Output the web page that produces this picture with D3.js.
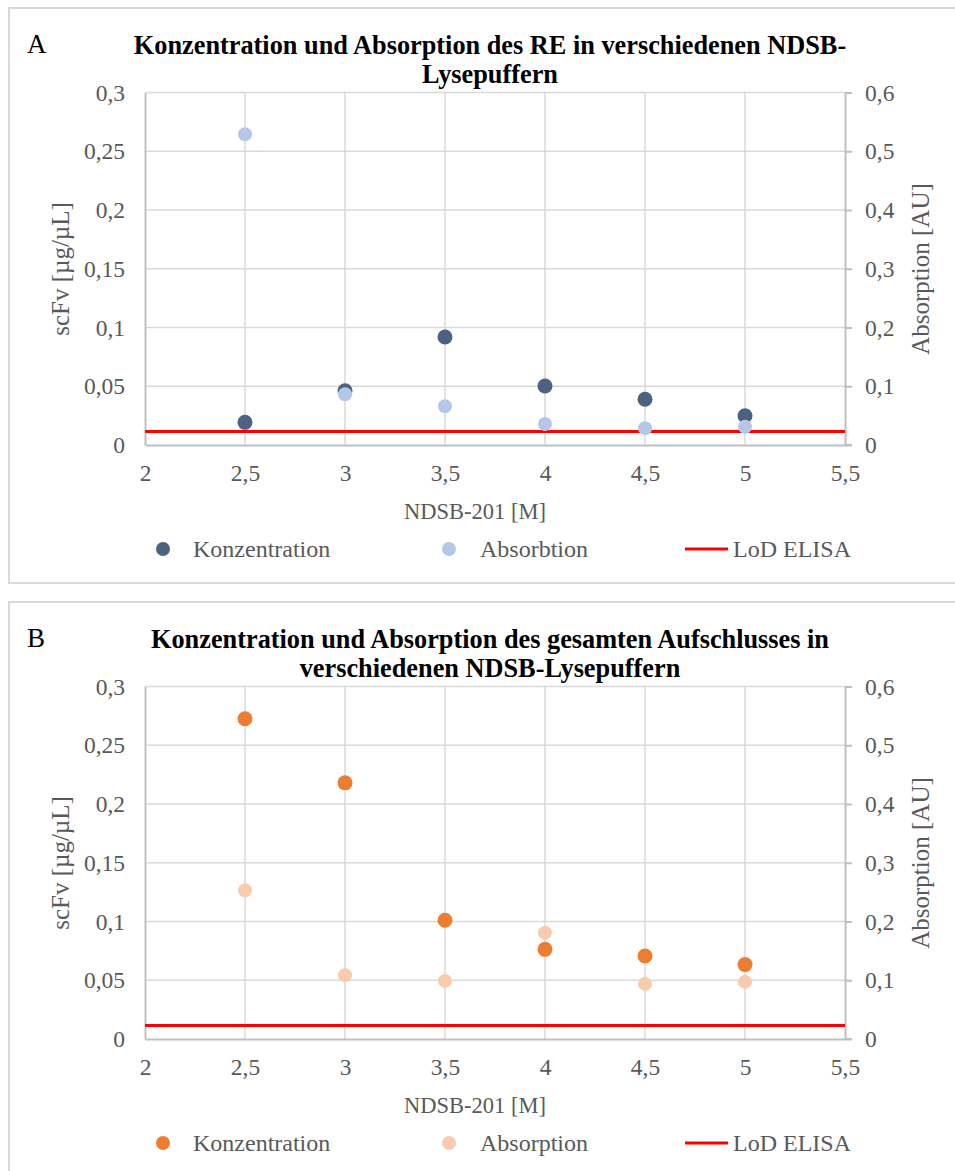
<!DOCTYPE html>
<html>
<head>
<meta charset="utf-8">
<script src="https://cdn.jsdelivr.net/npm/d3@7"></script>
<style>
  body { margin: 0; background: #fff; }
  text { font-family: "Liberation Serif", "Times New Roman", serif; }
</style>
</head>
<body>
<svg id="chart" width="955" height="1171"></svg>
<script>
// NDSB-201 concentrations (x) and measured values per panel
const ndsb = [2.5, 3, 3.5, 4, 4.5, 5]
const konzA = [0.0193, 0.0462, 0.0919, 0.0502, 0.0389, 0.0249]
const absA = [0.529, 0.0863, 0.0659, 0.0357, 0.0284, 0.031]
const konzB = [0.2726, 0.218, 0.1011, 0.0763, 0.0706, 0.0633]
const absB = [0.253, 0.1085, 0.0989, 0.181, 0.0938, 0.0972]
const lodElisa = 0.0115

const xTicks = [2, 2.5, 3, 3.5, 4, 4.5, 5, 5.5]
const leftTicks = [0, 0.05, 0.1, 0.15, 0.2, 0.25, 0.3]
const rightTicks = [0, 0.1, 0.2, 0.3, 0.4, 0.5, 0.6]

const panels = [
    { letter: 'A', title: ['Konzentration und Absorption des RE in verschiedenen NDSB-', 'Lysepuffern'],
      konz: konzA, abs: absA, absName: 'Absorbtion', konzColor: '#4d6280', absColor: '#b4c7e7', dy: 0 },
    { letter: 'B', title: ['Konzentration und Absorption des gesamten Aufschlusses in', 'verschiedenen NDSB-Lysepuffern'],
      konz: konzB, abs: absB, absName: 'Absorption', konzColor: '#ed7d31', absColor: '#f8cbad', dy: 594 },
]

const svg = d3.select('#chart')
const comma = d => String(+d.toFixed(2)).replace('.', ',')
const TXT = '#595959'
const GRID = '#d9d9d9'
const AXIS = '#bfbfbf'

const x = d3.scaleLinear().domain([2, 5.5]).range([145, 845])

panels.forEach(p => {
    const g = svg.append('g').attr('transform', `translate(0,${p.dy})`)
    const yL = d3.scaleLinear().domain([0, 0.3]).range([445, 92.5])
    const yR = d3.scaleLinear().domain([0, 0.6]).range([445, 92.5])

    // panel frame
    g.append('rect')
        .attr('x', 9).attr('y', 8).attr('width', 960).attr('height', 575)
        .attr('fill', 'none').attr('stroke', GRID).attr('stroke-width', 2)

    g.append('text').attr('x', 27).attr('y', 53)
        .attr('font-size', 27).attr('fill', '#000').text(p.letter)

    g.append('g').selectAll('text')
        .data(p.title)
        .join('text')
            .attr('x', 490).attr('y', (d, i) => 54 + i * 28.5)
            .attr('text-anchor', 'middle')
            .attr('font-size', 26.3).attr('font-weight', 'bold').attr('fill', '#000')
            .text(d => d)

    // grid
    g.append('g').selectAll('line')
        .data(leftTicks.slice(1))
        .join('line')
            .attr('x1', x(2)).attr('x2', x(5.5))
            .attr('y1', d => yL(d)).attr('y2', d => yL(d))
            .attr('stroke', GRID).attr('stroke-width', 1.5)
    g.append('g').selectAll('line')
        .data(xTicks.slice(1, -1))
        .join('line')
            .attr('x1', d => x(d)).attr('x2', d => x(d))
            .attr('y1', yL(0.3)).attr('y2', yL(0))
            .attr('stroke', GRID).attr('stroke-width', 1.5)

    // left axis
    const left = g.append('g').attr('transform', `translate(${x(2)},0)`)
        .call(d3.axisLeft(yL).tickValues(leftTicks).tickFormat(comma).tickSize(0).tickPadding(20))
    left.select('.domain').attr('stroke', AXIS).attr('stroke-width', 2)
    left.selectAll('text').attr('font-size', 23.5).attr('fill', TXT).attr('font-family', 'Liberation Serif')

    // right axis
    const right = g.append('g').attr('transform', `translate(${x(5.5)},0)`)
        .call(d3.axisRight(yR).tickValues(rightTicks).tickFormat(comma).tickSize(7).tickSizeOuter(0).tickPadding(13))
    right.select('.domain').attr('stroke', AXIS).attr('stroke-width', 2)
    right.selectAll('line').attr('stroke', AXIS).attr('stroke-width', 2)
    right.selectAll('text').attr('font-size', 23.5).attr('fill', TXT).attr('font-family', 'Liberation Serif')

    // bottom axis
    const bottom = g.append('g').attr('transform', `translate(0,${yL(0)})`)
        .call(d3.axisBottom(x).tickValues(xTicks).tickFormat(comma).tickSize(0).tickSizeOuter(0).tickPadding(19))
    bottom.select('.domain').attr('stroke', AXIS).attr('stroke-width', 2)
    bottom.selectAll('text').attr('font-size', 23.5).attr('fill', TXT).attr('font-family', 'Liberation Serif')
    g.append('line')
        .attr('x1', x(5.5)).attr('x2', x(5.5) + 7)
        .attr('y1', yL(0)).attr('y2', yL(0))
        .attr('stroke', AXIS).attr('stroke-width', 2)

    // axis titles
    g.append('text').attr('x', 475).attr('y', 519)
        .attr('text-anchor', 'middle').attr('font-size', 22.5).attr('fill', TXT)
        .text('NDSB-201 [M]')
    g.append('text')
        .attr('transform', 'translate(69,269) rotate(-90)')
        .attr('text-anchor', 'middle').attr('font-size', 25).attr('fill', TXT)
        .text('scFv [µg/µL]')
    g.append('text')
        .attr('transform', 'translate(929,269) rotate(-90)')
        .attr('text-anchor', 'middle').attr('font-size', 25).attr('fill', TXT)
        .text('Absorption [AU]')

    // LoD ELISA line
    g.append('line')
        .attr('x1', x(2)).attr('x2', x(5.5))
        .attr('y1', yL(lodElisa)).attr('y2', yL(lodElisa))
        .attr('stroke', '#ff0000').attr('stroke-width', 3)

    // points
    g.append('g').selectAll('circle')
        .data(ndsb.map((d, i) => ({ x: d, y: p.konz[i] })))
        .join('circle')
            .attr('cx', d => x(d.x)).attr('cy', d => yL(d.y))
            .attr('r', 7.5).attr('fill', p.konzColor)
    g.append('g').selectAll('circle')
        .data(ndsb.map((d, i) => ({ x: d, y: p.abs[i] })))
        .join('circle')
            .attr('cx', d => x(d.x)).attr('cy', d => yR(d.y))
            .attr('r', 7).attr('fill', p.absColor)

    // legend
    const legY = 549
    const leg = g.append('g')
    leg.append('circle').attr('cx', 163).attr('cy', legY).attr('r', 7).attr('fill', p.konzColor)
    leg.append('text').attr('x', 193).attr('y', legY + 8).attr('font-size', 24).attr('fill', TXT).text('Konzentration')
    leg.append('circle').attr('cx', 449).attr('cy', legY).attr('r', 7).attr('fill', p.absColor)
    leg.append('text').attr('x', 480).attr('y', legY + 8).attr('font-size', 24).attr('fill', TXT).text(p.absName)
    leg.append('line').attr('x1', 685).attr('x2', 728).attr('y1', legY).attr('y2', legY)
        .attr('stroke', '#ff0000').attr('stroke-width', 3)
    leg.append('text').attr('x', 733).attr('y', legY + 8).attr('font-size', 24).attr('fill', TXT).text('LoD ELISA')
})
</script>
</body>
</html>
